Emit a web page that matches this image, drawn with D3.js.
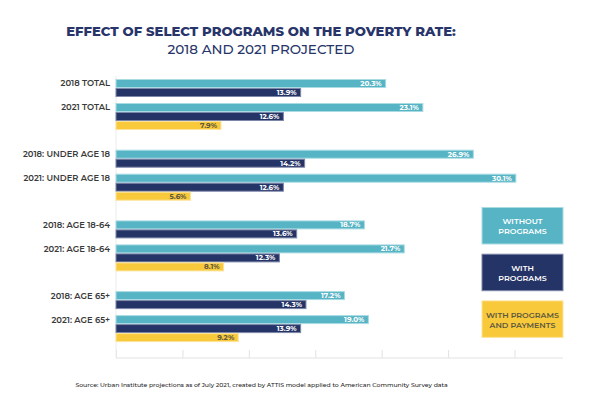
<!DOCTYPE html>
<html><head><meta charset="utf-8">
<script src="https://cdn.jsdelivr.net/npm/d3@7"></script>
<style>body{margin:0;background:#fff}svg{display:block}</style>
</head><body>
<script>
const groups = ["TOTAL", "UNDER AGE 18", "AGE 18-64", "AGE 65+"];
const years = ["2018", "2021"];
const rowLabels = ["2018 TOTAL", "2021 TOTAL", "2018: UNDER AGE 18", "2021: UNDER AGE 18", "2018: AGE 18-64", "2021: AGE 18-64", "2018: AGE 65+", "2021: AGE 65+"];
const seriesNames = ["WITHOUT PROGRAMS", "WITH PROGRAMS", "WITH PROGRAMS AND PAYMENTS"];
const withoutPrograms = [20.3, 23.1, 26.9, 30.1, 18.7, 21.7, 17.2, 19.0];
const withPrograms = [13.9, 12.6, 14.2, 12.6, 13.6, 12.3, 14.3, 13.9];
const withPayments = [null, 7.9, null, 5.6, null, 8.1, null, 9.2];
const xTicks = [0, 5, 10, 15, 20, 25, 30];
const colors = ["#56b4c4", "#253466", "#f8c93a"];
const strokes = ["#a9dbe3", "#7d87a8", "#fde39a"];
const textColors = ["#ffffff", "#ffffff", "#5d5840"];
const legendLines = [["WITHOUT", "PROGRAMS"], ["WITH", "PROGRAMS"], ["WITH PROGRAMS", "AND PAYMENTS"]];

const W = 600, H = 400;
const svg = d3.select("body").append("svg").attr("width", W).attr("height", H);
const font = "Montserrat, 'Open Sans', 'DejaVu Sans', sans-serif";

const x = d3.scaleLinear().domain([0, 33.65]).range([116, 563]);
const yGroup = d3.scaleBand().domain(groups).range([79, 79 + 4 * 70.7]);
const yYear = d3.scaleBand().domain(years).range([0, 48]);
const ySeries = d3.scaleBand().domain(seriesNames).range([0, 27]);

// Title
svg.append("text").attr("x", 261).attr("y", 36).attr("text-anchor", "middle")
  .attr("font-family", font).attr("font-weight", 800).attr("font-size", 13.2)
  .attr("fill", "#28356a").text("EFFECT OF SELECT PROGRAMS ON THE POVERTY RATE:");
svg.append("text").attr("x", 261).attr("y", 54).attr("text-anchor", "middle")
  .attr("font-family", font).attr("font-weight", 500).attr("font-size", 13.5)
  .attr("fill", "#28356a").text("2018 AND 2021 PROJECTED");

// Axis
const axisY = 358;
const axis = d3.axisBottom(x).tickValues(xTicks).tickSize(-8).tickFormat("");
const ag = svg.append("g").attr("transform", `translate(0,${axisY})`).call(axis);
ag.select(".domain").attr("stroke", "#e2e2e2").attr("d", `M${x(0)},0H${x.range()[1]}`);
ag.selectAll(".tick line").attr("stroke", "#e2e2e2");
svg.append("line").attr("x1", x(0)).attr("x2", x(0)).attr("y1", 76).attr("y2", axisY)
  .attr("stroke", "#ececec");

// Rows
const rows = rowLabels.map((label, i) => ({
  label, group: groups[Math.floor(i / 2)], year: years[i % 2],
  values: [withoutPrograms[i], withPrograms[i], withPayments[i]]
}));

const rg = svg.selectAll(".row").data(rows).enter().append("g")
  .attr("transform", d => `translate(0,${yGroup(d.group) + yYear(d.year)})`);

rg.append("text").attr("x", 110).attr("y", ySeries(seriesNames[0]) + ySeries.bandwidth() / 2)
  .attr("dy", "0.35em").attr("text-anchor", "end")
  .attr("font-family", font).attr("font-weight", 600).attr("font-size", 8.4)
  .attr("fill", "#3a3a3a").text(d => d.label);

const bars = rg.selectAll(".bar").data(d => d.values.map((v, k) => ({v, k})).filter(e => e.v !== null))
  .enter().append("g");
bars.append("rect")
  .attr("x", x(0)).attr("y", e => ySeries(seriesNames[e.k]) + 0.5)
  .attr("width", e => x(e.v) - x(0)).attr("height", ySeries.bandwidth() - 1)
  .attr("fill", e => colors[e.k]).attr("stroke", e => strokes[e.k]).attr("stroke-width", 1);
bars.append("text")
  .attr("x", e => x(e.v) - 4).attr("y", e => ySeries(seriesNames[e.k]) + ySeries.bandwidth() / 2)
  .attr("dy", "0.35em").attr("text-anchor", "end")
  .attr("font-family", font).attr("font-weight", 700).attr("font-size", 7.2)
  .attr("fill", e => textColors[e.k]).text(e => e.v.toFixed(1) + "%");

// Legend
const lg = svg.selectAll(".leg").data(seriesNames).enter().append("g")
  .attr("transform", (d, i) => `translate(482,${207.5 + i * 46.7})`);
lg.append("rect").attr("width", 81).attr("height", 36.5)
  .attr("fill", (d, i) => colors[i]).attr("stroke", (d, i) => strokes[i]).attr("stroke-width", 1);
lg.each(function(d, i) {
  const g = d3.select(this);
  legendLines[i].forEach((ln, j) => {
    g.append("text").attr("x", 40.5).attr("y", 14 + j * 10).attr("dy", "0.35em")
      .attr("text-anchor", "middle").attr("font-family", font).attr("font-weight", 600)
      .attr("font-size", 7.9).attr("fill", textColors[i]).text(ln);
  });
});

// Source
svg.append("text").attr("x", 261.5).attr("y", 385).attr("dy", "0.35em").attr("text-anchor", "middle")
  .attr("font-family", font).attr("font-size", 6.15).attr("font-weight", 500).attr("fill", "#222")
  .text("Source: Urban Institute projections as of July 2021, created by ATTIS model applied to American Community Survey data");
</script>
</body></html>
